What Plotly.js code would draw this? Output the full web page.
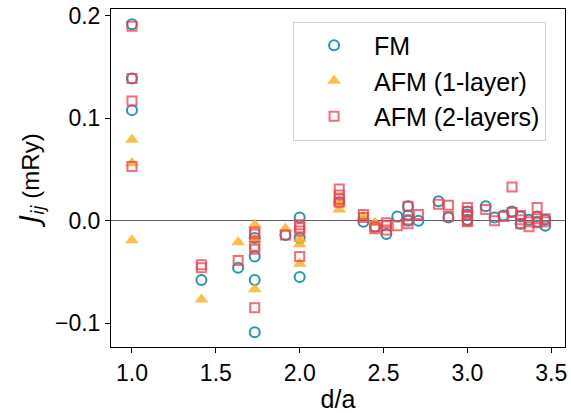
<!DOCTYPE html>
<html>
<head>
<meta charset="utf-8">
<script src="https://cdn.plot.ly/plotly-3.0.1.min.js"></script>
<style>html,body{margin:0;padding:0;background:#fff;}#chart{width:571px;height:413px;}</style>
</head>
<body>
<div id="chart"></div>
<script>
// FM
var fmD = [1.0,1.0,1.0, 1.414, 1.633, 1.732,1.732,1.732,1.732, 1.915, 2.0,2.0,2.0, 2.236, 2.380, 2.449, 2.517, 2.582, 2.646,2.646,2.646, 2.708, 2.828, 2.887, 3.0,3.0,3.0, 3.109, 3.162, 3.215, 3.266, 3.317,3.317, 3.367, 3.416,3.416, 3.464,3.464];
var fmJ = [0.192,0.139,0.108, -0.058, -0.046, -0.017,-0.035,-0.058,-0.109, -0.014, 0.003,-0.017,-0.055, 0.018, -0.001, -0.006, -0.013, 0.004, 0.014,0.005,0.000, 0.000, 0.019, 0.003, 0.009,0.006,0.001, 0.014, 0.003, 0.005, 0.009, 0.004,-0.003, 0.001, 0.004,-0.001, 0.001,-0.005];
// AFM (1-layer)
var afm1D = [1.0,1.0,1.0, 1.414, 1.633, 1.732,1.732,1.732, 1.915, 2.0,2.0,2.0, 2.236,2.236, 2.380, 2.449];
var afm1J = [0.079,0.056,-0.019, -0.077, -0.021, -0.004,-0.018,-0.067, -0.008, -0.018,-0.023,-0.042, 0.017,0.011, 0.004, -0.002];
// AFM (2-layers)
var afm2D = [1.0,1.0,1.0,1.0, 1.414,1.414, 1.633, 1.732,1.732,1.732,1.732,1.732, 1.915, 2.0,2.0,2.0,2.0, 2.236,2.236,2.236,2.236, 2.380,2.380, 2.449,2.449, 2.517,2.517,2.517, 2.582, 2.646,2.646,2.646, 2.708, 2.828, 2.887,2.887, 3.0,3.0,3.0,3.0,3.0, 3.109, 3.162, 3.215, 3.266,3.266, 3.317,3.317,3.317, 3.367,3.367, 3.416,3.416,3.416, 3.464,3.464];
var afm2J = [0.190,0.139,0.117,0.053, -0.043,-0.046, -0.039, -0.011,-0.013,-0.025,-0.028,-0.085, -0.014, -0.004,-0.007,-0.010,-0.035, 0.031,0.025,0.021,0.018, 0.006,0.003, -0.006,-0.008, -0.002,-0.005,-0.009, -0.005, 0.014,0.001,-0.003, 0.006, 0.016, 0.015,0.004, 0.013,0.009,0.005,0.000,-0.001, 0.011, 0.000, 0.004, 0.033,0.008, 0.005,0.001,-0.003, -0.001,-0.006, 0.013,0.002,-0.002, 0.002,-0.001];

var traces = [
  {x: fmD, y: fmJ, type: 'scatter', mode: 'markers', name: 'FM', legendgroup: 'a',
   marker: {symbol: 'circle-open', size: 10, color: '#2596b3', line: {width: 2, color: '#2596b3'}}},
  {x: afm1D, y: afm1J, type: 'scatter', mode: 'markers', name: 'AFM (1-layer)', legendgroup: 'b',
   marker: {symbol: 'triangle-up', size: 12, color: 'rgba(253,178,40,0.85)', line: {width: 0}}},
  {x: afm2D, y: afm2J, type: 'scatter', mode: 'markers', name: 'AFM (2-layers)', legendgroup: 'c',
   marker: {symbol: 'square-open', size: 9, color: 'rgba(240,60,75,0.75)', line: {width: 2, color: 'rgba(240,60,75,0.75)'}}}
];

var layout = {
  width: 571, height: 413,
  margin: {l: 111, r: 6, t: 9, b: 66},
  paper_bgcolor: '#fff', plot_bgcolor: '#fff',
  font: {family: 'Liberation Sans, Arial, sans-serif', color: '#000'},
  showlegend: true,
  legend: {x: 0.401, y: 0.963, xanchor: 'left', yanchor: 'top',
    bgcolor: '#fff', bordercolor: '#d0d0d0', borderwidth: 1,
    font: {size: 25, color: '#000'}, traceorder: 'grouped', tracegroupgap: 0,
    itemwidth: 70, indentation: 0},
  xaxis: {range: [0.875, 3.582], tickvals: [1.0,1.5,2.0,2.5,3.0,3.5], tickformat: '.1f',
    ticks: 'outside', ticklen: 5, tickwidth: 1, tickcolor: '#000',
    showline: true, linecolor: '#000', linewidth: 1, mirror: true,
    showgrid: false, zeroline: false, tickfont: {size: 23},
    title: {text: 'd/a', font: {size: 25}, standoff: 6}},
  yaxis: {range: [-0.1234, 0.2068], tickvals: [-0.1,0.0,0.1,0.2], tickformat: '.1f',
    ticks: 'outside', ticklen: 5, tickwidth: 1, tickcolor: '#000',
    showline: true, linecolor: '#000', linewidth: 1, mirror: true,
    showgrid: false, zeroline: true, zerolinecolor: '#606060', zerolinewidth: 1.5,
    tickfont: {size: 23},
    title: {text: '<span style="font-family:DejaVu Sans;font-size:27px"><i>J</i></span><span style="font-family:DejaVu Sans"><sub><i>ij</i></sub></span> (mRy)', font: {size: 24}, standoff: 8}}
};

Plotly.newPlot('chart', traces, layout, {displayModeBar: false, staticPlot: true});
</script>
</body>
</html>
